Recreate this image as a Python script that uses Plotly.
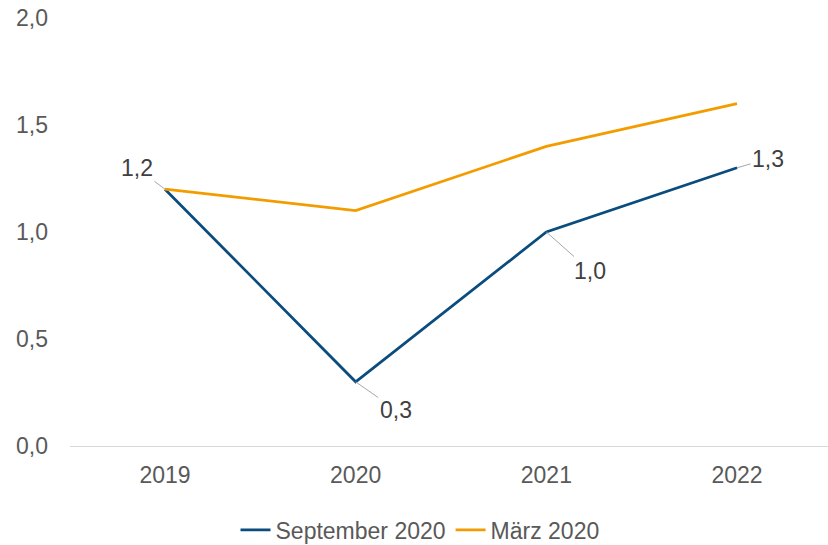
import plotly.graph_objects as go

years = ["2019", "2020", "2021", "2022"]
sep_2020 = [1.2, 0.3, 1.0, 1.3]
maerz_2020 = [1.2, 1.1, 1.4, 1.6]
sep_labels = ["1,2", "0,3", "1,0", "1,3"]
label_offsets = [(-28, -21), (40, 28), (44, 39), (31, -9)]

BLUE = "#0A4C7D"
ORANGE = "#F39C00"
TXT = "#595959"
FONT = "Liberation Sans, Arial, sans-serif"
FS = 23

fig = go.Figure()
fig.add_trace(go.Scatter(x=years, y=sep_2020, mode="lines", name="September 2020",
                         line=dict(color=BLUE, width=2.75)))
fig.add_trace(go.Scatter(x=years, y=maerz_2020, mode="lines", name="März 2020",
                         line=dict(color=ORANGE, width=2.75)))

for i, (y, t, (ax, ay)) in enumerate(zip(sep_2020, sep_labels, label_offsets)):
    fig.add_annotation(x=i, y=y, xref="x", yref="y", text=t, showarrow=True,
                       arrowhead=0, arrowwidth=1, arrowcolor="#A6A6A6",
                       ax=ax, ay=ay, standoff=0,
                       font=dict(size=FS, color="#404040", family=FONT))

fig.update_layout(
    width=828, height=545,
    margin=dict(l=70, r=0, t=18, b=99),
    paper_bgcolor="white", plot_bgcolor="white",
    separators=",.",
    font=dict(family=FONT, size=FS, color=TXT),
    showlegend=True,
    legend=dict(orientation="h", xref="container", x=420 / 828, xanchor="center",
                yref="container", y=15 / 545, yanchor="middle",
                font=dict(size=FS, color=TXT), itemwidth=30, tracegroupgap=0),
    xaxis=dict(type="category", range=[-0.498, 3.477], showgrid=False, showline=True,
               linecolor="#D9D9D9", linewidth=1, ticks="", ticklabelstandoff=8,
               tickfont=dict(size=FS, color=TXT), zeroline=False),
    yaxis=dict(range=[0, 2.0], dtick=0.5, tickformat=".1f", showgrid=False,
               showline=False, zeroline=False, ticks="", ticklabelstandoff=21,
               tickfont=dict(size=FS, color=TXT)),
)

fig.write_html("out.html", config={"displayModeBar": False},
               post_script="document.body.style.margin='0px';")
